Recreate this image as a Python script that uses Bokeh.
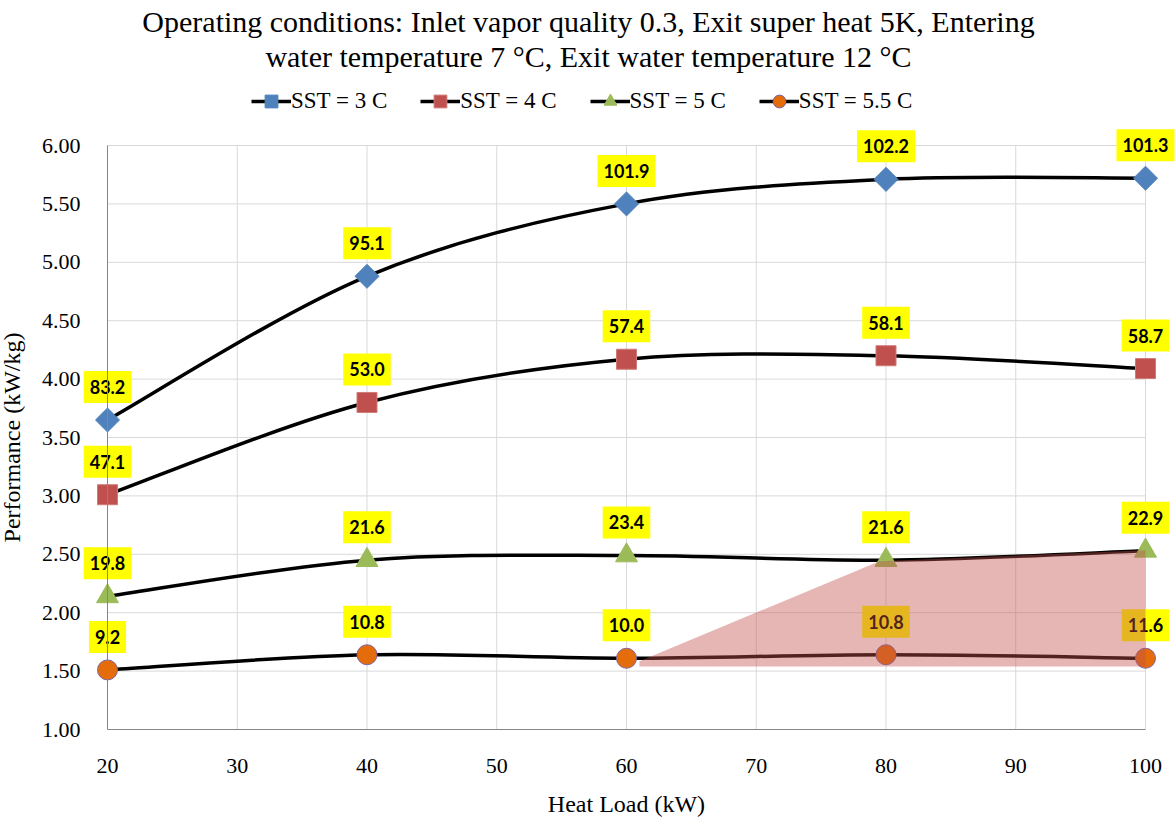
import numpy as np
from bokeh.plotting import figure
from bokeh.models import (ColumnDataSource, Range1d, Title, Legend, LegendItem,
                          FixedTicker, NumeralTickFormatter)
from bokeh.core.properties import value
from bokeh.embed import file_html
from bokeh.resources import INLINE

# ---------------- data ----------------
heat_load = [20, 40, 60, 80, 100]
series_names = ["SST = 3 C", "SST = 4 C", "SST = 5 C", "SST = 5.5 C"]
perf_sst3 = [3.65, 4.88, 5.50, 5.71, 5.72]
perf_sst4 = [3.01, 3.80, 4.17, 4.20, 4.09]
perf_sst5 = [2.14, 2.45, 2.49, 2.45, 2.53]
perf_sst55 = [1.51, 1.64, 1.61, 1.64, 1.61]
labels_sst3 = ["83.2", "95.1", "101.9", "102.2", "101.3"]
labels_sst4 = ["47.1", "53.0", "57.4", "58.1", "58.7"]
labels_sst5 = ["19.8", "21.6", "23.4", "21.6", "22.9"]
labels_sst55 = ["9.2", "10.8", "10.0", "10.8", "11.6"]
shade_x = [61.0, 79.5, 100.0, 100.0, 61.0]
shade_y = [1.585, 2.44, 2.535, 1.54, 1.54]
x_ticks = [20, 30, 40, 50, 60, 70, 80, 90, 100]
y_ticks = [1.0, 1.5, 2.0, 2.5, 3.0, 3.5, 4.0, 4.5, 5.0, 5.5, 6.0]

title_line1 = "Operating conditions: Inlet vapor quality 0.3, Exit super heat 5K, Entering"
title_line2 = "water temperature 7 \u00b0C, Exit water temperature 12 \u00b0C"

SERIF = "Liberation Serif"

# ---------------- layout (pixels) ----------------
W, H = 1176, 825
TOP = 72                 # space for the title
X0, X1 = 20, 100         # axis bounds
Y0, Y1 = 1, 6
PX_X0, PX_X1 = 107, 1145  # pixel position of x bounds
PX_Y1, PX_Y0 = 145, 729   # pixel position of y bounds (top, bottom)
sx = (PX_X1 - PX_X0) / (X1 - X0)
sy = (PX_Y0 - PX_Y1) / (Y1 - Y0)
x_range = Range1d(X0 - PX_X0 / sx, X0 + (W - PX_X0) / sx)
y_range = Range1d(Y0 - (H - PX_Y0) / sy, Y1 + (PX_Y1 - TOP) / sy)

p = figure(frame_width=W, frame_height=H - TOP,
           min_border_left=0, min_border_right=0,
           min_border_top=TOP, min_border_bottom=0,
           x_range=x_range, y_range=y_range,
           output_backend="svg", toolbar_location=None,
           background_fill_color="white", border_fill_color="white")
p.outline_line_color = None

# title: second line first (closest to the plot), then first line above it
for txt in (title_line2, title_line1):
    p.add_layout(Title(text=txt, align="center", text_font=SERIF,
                       text_font_size="30px", text_font_style="normal",
                       text_line_height=1.0, text_color="black", standoff=0),
                 "above")

# axes, drawn at the chart's bounds
p.xaxis.fixed_location = Y0
p.yaxis.fixed_location = X0
p.xaxis.bounds = (X0, X1)
p.yaxis.bounds = (Y0, Y1)
for ax in (p.xaxis[0], p.yaxis[0]):
    ax.axis_line_color = "#868686"
    ax.axis_line_width = 1
    ax.major_tick_line_color = None
    ax.minor_tick_line_color = None
    ax.major_label_text_font = SERIF
    ax.major_label_text_font_size = "22px"
    ax.major_label_text_color = "black"
    ax.axis_label_text_font = SERIF
    ax.axis_label_text_font_size = "24px"
    ax.axis_label_text_font_style = "normal"
    ax.axis_label_text_color = "black"

p.xaxis.ticker = FixedTicker(ticks=x_ticks)
p.yaxis.ticker = FixedTicker(ticks=y_ticks)
p.yaxis.formatter = NumeralTickFormatter(format="0.00")
p.xaxis.axis_label = "Heat Load (kW)"
p.yaxis.axis_label = "Performance (kW/kg)"
p.xaxis.major_label_standoff = 23
p.yaxis.major_label_standoff = 21
p.xaxis.axis_label_standoff = 15
p.yaxis.axis_label_standoff = 14

# gridlines limited to the plot area
p.xgrid.visible = False
p.ygrid.visible = False
p.segment(x0=x_ticks, x1=x_ticks, y0=[Y0] * len(x_ticks), y1=[Y1] * len(x_ticks),
          line_color="#D9D9D9", line_width=1)
p.segment(x0=[X0] * len(y_ticks), x1=[X1] * len(y_ticks), y0=y_ticks, y1=y_ticks,
          line_color="#D9D9D9", line_width=1)

series = [
    (perf_sst3, labels_sst3, dict(marker="square", angle=np.pi / 4, size=17,
                                  fill_color="#4F81BD", line_color="#4F81BD")),
    (perf_sst4, labels_sst4, dict(marker="square", size=20,
                                  fill_color="#C0504D", line_color="#CF7A77")),
    (perf_sst5, labels_sst5, dict(marker="triangle", size=22,
                                  fill_color="#9BBB59", line_color="#9BBB59")),
    (perf_sst55, labels_sst55, dict(marker="circle", size=20,
                                    fill_color="#E46C0A", line_color="#8064A2")),
]


def smooth_segments(xs, ys):
    """Cubic Bezier control points through the data points (Excel-like smoothing)."""
    pts = list(zip(xs, ys))
    n = len(pts)
    out = dict(x0=[], y0=[], x1=[], y1=[], cx0=[], cy0=[], cx1=[], cy1=[])
    for i in range(n - 1):
        p0 = pts[i - 1] if i > 0 else pts[i]
        p1 = pts[i]
        p2 = pts[i + 1]
        p3 = pts[i + 2] if i + 2 < n else pts[i + 1]
        out["x0"].append(p1[0]); out["y0"].append(p1[1])
        out["x1"].append(p2[0]); out["y1"].append(p2[1])
        out["cx0"].append(p1[0] + (p2[0] - p0[0]) / 6)
        out["cy0"].append(p1[1] + (p2[1] - p0[1]) / 6)
        out["cx1"].append(p2[0] - (p3[0] - p1[0]) / 6)
        out["cy1"].append(p2[1] - (p3[1] - p1[1]) / 6)
    return out


legend_items = []
label_sources = []
for name, (vals, labs, mk) in zip(series_names, series):
    seg = ColumnDataSource(smooth_segments(heat_load, vals))
    p.bezier(x0="x0", y0="y0", x1="x1", y1="y1", cx0="cx0", cy0="cy0",
             cx1="cx1", cy1="cy1", source=seg, line_color="black", line_width=3.5)
    # legend swatch for the line (draws nothing on the plot itself)
    swatch = p.line(x=[np.nan, np.nan], y=[np.nan, np.nan],
                    line_color="black", line_width=3.5)
    src = ColumnDataSource(dict(x=heat_load, y=vals, t=labs))
    r = p.scatter(x="x", y="y", source=src, **mk)
    legend_items.append(LegendItem(label=name, renderers=[swatch, r]))
    label_sources.append(src)

# data labels
for src in label_sources:
    p.text(x="x", y="y", text="t", source=src, y_offset=-33,
           text_align="center", text_baseline="middle",
           text_font=value("Lato"), text_font_style="bold",
           text_font_size="18px", text_color="black",
           background_fill_color="#FFFF00",
           padding=dict(left=6, right=6, top=9, bottom=9))

# highlighted region
p.patch(x=shade_x, y=shade_y, fill_color="#C0504D", fill_alpha=0.42,
        line_color=None)

legend = Legend(items=legend_items, orientation="horizontal",
                location=(251, H - 117), padding=0, margin=0, spacing=33,
                label_standoff=0, glyph_width=40, glyph_height=32,
                label_text_font=SERIF, label_text_font_size="23px",
                label_text_color="black",
                background_fill_alpha=0, border_line_alpha=0)
p.add_layout(legend, "center")

open("out.html", "w").write(file_html(p, INLINE))
